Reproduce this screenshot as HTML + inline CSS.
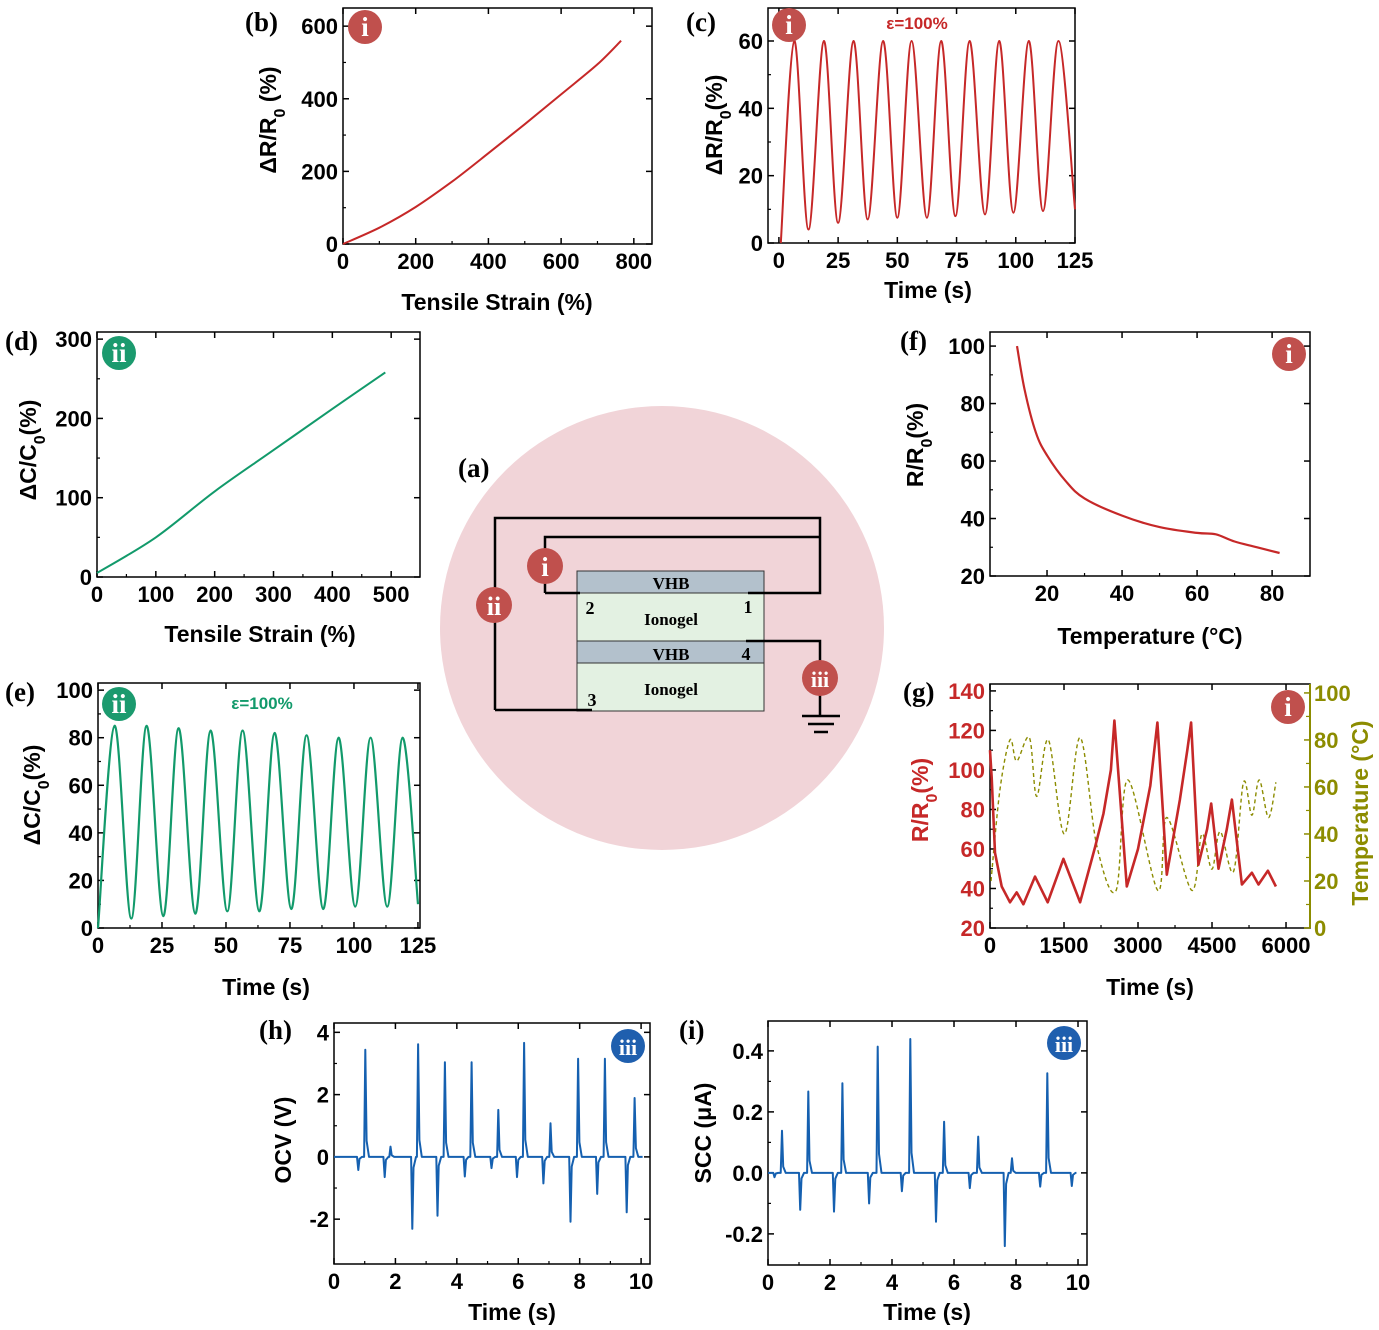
<!DOCTYPE html>
<html><head><meta charset="utf-8">
<style>
html,body{margin:0;padding:0;background:#fff;}
svg{display:block;font-family:"Liberation Sans",sans-serif;}
.tk{font-size:22px;font-weight:bold;fill:#000;}
.tt{font-size:23px;font-weight:bold;fill:#000;}
.pl{font-family:"Liberation Serif",serif;font-size:27px;font-weight:bold;fill:#000;}
.dg{font-family:"Liberation Serif",serif;font-weight:bold;fill:#000;}
</style></head>
<body>
<svg id="fig" width="1379" height="1330" viewBox="0 0 1379 1330" xmlns="http://www.w3.org/2000/svg">
  <g>
    <circle cx="662" cy="628" r="222" fill="#f1d4d8"/>
    <text x="458" y="477" class="pl">(a)</text>
    <rect x="577" y="571" width="187" height="22" fill="#b3c1cc" stroke="#333" stroke-width="1"/>
    <rect x="577" y="593" width="187" height="48" fill="#e3f1e2" stroke="#333" stroke-width="1"/>
    <rect x="577" y="641" width="187" height="22" fill="#b3c1cc" stroke="#333" stroke-width="1"/>
    <rect x="577" y="663" width="187" height="48" fill="#e3f1e2" stroke="#333" stroke-width="1"/>
    <g fill="none" stroke="#000" stroke-width="2.5">
      <path d="M495,710 V518 H820 V593 H748"/>
      <path d="M545,593 V537 H820"/>
      <path d="M545,593 H580"/>
      <path d="M495,710 H592"/>
      <path d="M746,641 H820 V716"/>
      <path d="M802,716 H840 M808,724 H834 M814,732 H828"/>
    </g>
    <circle cx="545" cy="566" r="18" fill="#c0504d"/>
    <text x="545" y="576" text-anchor="middle" font-family="Liberation Serif,serif" font-weight="bold" font-size="27" fill="#fff">i</text>
    <circle cx="494" cy="605" r="18" fill="#c0504d"/>
    <text x="494" y="615" text-anchor="middle" font-family="Liberation Serif,serif" font-weight="bold" font-size="26" fill="#fff">ii</text>
    <circle cx="820" cy="678" r="18" fill="#c0504d"/>
    <text x="820" y="687" text-anchor="middle" font-family="Liberation Serif,serif" font-weight="bold" font-size="22" fill="#fff">iii</text>
    <text x="671" y="589" class="dg" font-size="17" text-anchor="middle">VHB</text>
    <text x="671" y="625" class="dg" font-size="17" text-anchor="middle">Ionogel</text>
    <text x="590" y="614" class="dg" font-size="18" text-anchor="middle">2</text>
    <text x="748" y="613" class="dg" font-size="18" text-anchor="middle">1</text>
    <text x="671" y="660" class="dg" font-size="17" text-anchor="middle">VHB</text>
    <text x="746" y="660" class="dg" font-size="18" text-anchor="middle">4</text>
    <text x="671" y="695" class="dg" font-size="17" text-anchor="middle">Ionogel</text>
    <text x="592" y="706" class="dg" font-size="18" text-anchor="middle">3</text>
  </g>
  <g id="panels"></g>
</svg>
<script>
// ---------- data ----------
const bStrain = [0, 100, 200, 300, 400, 500, 600, 700, 765];
const bResp   = [0, 45, 102, 172, 250, 330, 412, 495, 560];
const cTime = [0.8,6.5,12.5,19,25,31.5,37.5,44,50,56,62.5,68.5,74.5,80.5,87,93,99,105.5,111.5,118,125];
const cResp = [0,60,4,60,6,60,7,60,7.5,60,7.5,60,8,60,8.5,60,9,60,9.5,60,10];
const dStrain = [0, 100, 200, 300, 400, 490];
const dResp   = [5, 50, 108, 160, 212, 258];
const eTime = [0,6.5,13,19,25.5,31.5,38,44,50.5,56.5,63,69,75.5,81.5,88,94,100.5,106.5,113,119,125];
const eResp = [0,85,4,85,5,84,6,83,7,83,7,82,8,81,8,80,9,80,9,80,10];
const fTemp = [12, 14, 17, 20, 25, 30, 40, 50, 60, 65, 70, 76, 82];
const fResp = [100, 85, 70, 62, 53, 47, 41, 37, 35, 34.5, 32, 30, 28];
const gTime = [0,34,101,237,406,541,676,913,1170,1487,1826,2130,2300,2450,2522,2772,3000,3250,3394,3584,3850,4000,4077,4225,4400,4483,4631,4800,4902,5105,5308,5442,5632,5795];
const gResR = [110,96,58,41,33,38,32,46,33,55,33,61,78,100,125,41,60,92,124,47,85,110,124,52,70,83,50,70,85,42,48,42,49,41];
const gTTime = [20,203,406,541,798,947,1183,1508,1826,2164,2556,2793,3401,3584,4091,4294,4497,4665,4936,5139,5308,5456,5645,5795];
const gTemp  = [20,59,80,71,81,56,80,40,81,35,16,63,16,47,16,40,25,41,24,62,48,63,47,62];
const hPosT = [1.02,1.84,2.74,3.61,4.48,5.35,6.19,7.05,7.95,8.82,9.79];
const hPosV = [3.44,0.33,3.62,3.04,3.04,1.51,3.66,1.08,3.15,3.15,1.89];
const hNegT = [0.79,1.65,2.55,3.37,4.26,5.13,5.96,6.82,7.70,8.57,9.53];
const hNegV = [-0.42,-0.65,-2.31,-1.89,-0.63,-0.36,-0.65,-0.85,-2.08,-1.19,-1.78];
const iPosT = [0.45,1.30,2.40,3.54,4.59,5.68,6.78,7.87,9.01];
const iPosV = [0.138,0.267,0.294,0.414,0.439,0.168,0.119,0.048,0.327];
const iNegT = [0.21,1.04,2.13,3.26,4.32,5.42,6.51,7.64,8.78,9.80];
const iNegV = [-0.014,-0.121,-0.127,-0.10,-0.06,-0.16,-0.05,-0.24,-0.045,-0.043];
const bXT=[0,200,400,600,800], bYT=[0,200,400,600];
const cXT=[0,25,50,75,100,125], cYT=[0,20,40,60];
const dXT=[0,100,200,300,400,500], dYT=[0,100,200,300];
const eXT=[0,25,50,75,100,125], eYT=[0,20,40,60,80,100];
const fXT=[20,40,60,80], fYT=[20,40,60,80,100];
const gXT=[0,1500,3000,4500,6000], gYT=[20,40,60,80,100,120,140], gRT=[0,20,40,60,80,100];
const hXT=[0,2,4,6,8,10], hYT=[-2,0,2,4];
const iXT=[0,2,4,6,8,10], iYT=[-0.2,0,0.2,0.4];

const NS="http://www.w3.org/2000/svg";
const root=document.getElementById('panels');
function mk(tag,attrs,parent,txt){const e=document.createElementNS(NS,tag);for(const k in attrs)e.setAttribute(k,attrs[k]);if(txt!==undefined)e.textContent=txt;(parent||root).appendChild(e);return e;}
function scale(d0,d1,p0,p1){return v=>p0+(v-d0)/(d1-d0)*(p1-p0);}
function smooth(pts){
  let d="M"+pts[0][0].toFixed(1)+","+pts[0][1].toFixed(1);
  for(let i=0;i<pts.length-1;i++){
    const p0=pts[Math.max(0,i-1)],p1=pts[i],p2=pts[i+1],p3=pts[Math.min(pts.length-1,i+2)];
    const c1=[p1[0]+(p2[0]-p0[0])/6,p1[1]+(p2[1]-p0[1])/6];
    const c2=[p2[0]-(p3[0]-p1[0])/6,p2[1]-(p3[1]-p1[1])/6];
    d+="C"+c1[0].toFixed(1)+","+c1[1].toFixed(1)+" "+c2[0].toFixed(1)+","+c2[1].toFixed(1)+" "+p2[0].toFixed(1)+","+p2[1].toFixed(1);
  }
  return d;
}
function fmt(v){return String(v);}
function axes(g,o){
  const sx=scale(o.xd[0],o.xd[1],o.L,o.R), sy=scale(o.yd[0],o.yd[1],o.B,o.T);
  const box=mk('rect',{x:o.L,y:o.T,width:o.R-o.L,height:o.B-o.T,fill:'none',stroke:'#000','stroke-width':1.5},g);
  
  
  o.xt.forEach((v,i)=>{
    const x=sx(v);
    mk('line',{x1:x,x2:x,y1:o.B,y2:o.B-6,stroke:'#000','stroke-width':1.5},g);
    mk('line',{x1:x,x2:x,y1:o.T,y2:o.T+6,stroke:'#000','stroke-width':1.5},g);
    if(i<o.xt.length-1){const xm=sx((v+o.xt[i+1])/2);mk('line',{x1:xm,x2:xm,y1:o.B,y2:o.B-3,stroke:'#000','stroke-width':1.2},g);}
    const t=mk('text',{x:x,y:o.B+25,class:'tk','text-anchor':'middle'},g,o.xl?o.xl[i]:fmt(v));
    
    
  });
  o.yt.forEach((v,i)=>{
    const y=sy(v);
    mk('line',{x1:o.L,x2:o.L+6,y1:y,y2:y,stroke:'#000','stroke-width':1.5},g);
    if(!o.noRightTicks) mk('line',{x1:o.R,x2:o.R-6,y1:y,y2:y,stroke:'#000','stroke-width':1.5},g);
    if(i<o.yt.length-1){const ym=sy((v+o.yt[i+1])/2);mk('line',{x1:o.L,x2:o.L+3,y1:ym,y2:ym,stroke:'#000','stroke-width':1.2},g);}
    const t=mk('text',{x:o.L-5,y:y+8,class:'tk','text-anchor':'end'},g,o.yl?o.yl[i]:fmt(v));
    if(o.ycol)t.setAttribute('style','fill:'+o.ycol);
    
    
  });
  return {sx,sy};
}
function ylabel(g,x,y,parts,col){
  const t=mk('text',{x:x,y:y,class:'tt','text-anchor':'middle',transform:`rotate(-90 ${x} ${y})`},g);
  if(col)t.setAttribute('style','fill:'+col);
  parts.forEach(p=>{mk('tspan',p[1]?{'baseline-shift':'sub','font-size':'16'}:{},t,p[0]);});
  
  
  return t;
}
function xlabel(g,x,y,txt){const t=mk('text',{x:x,y:y,class:'tt','text-anchor':'middle'},g,txt);
  
  }
function plabel(g,x,y,txt){const t=mk('text',{x:x,y:y,class:'pl'},g,txt);
  
  }
function badge(g,x,y,txt,col){
  const c=mk('circle',{cx:x,cy:y,r:17,fill:col},g);
  
  
  const t=mk('text',{x:x,y:y+9,'text-anchor':'middle','font-family':'Liberation Serif,serif','font-weight':'bold','font-size':txt.length>2?'22':'27',fill:'#fff'},g,txt);
  
  
}
function line(g,sx,sy,xs,ys,col,w,smoothIt,dash){
  const pts=xs.map((x,i)=>[sx(x),sy(ys[i])]);
  const d=smoothIt?smooth(pts):"M"+pts.map(p=>p[0].toFixed(1)+","+p[1].toFixed(1)).join("L");
  const p=mk('path',{d:d,fill:'none',stroke:col,'stroke-width':w,'stroke-linejoin':'round'},g);
  if(dash)p.setAttribute('stroke-dasharray',dash);
  
  
  return p;
}
function spikes(g,sx,sy,pT,pV,nT,nV,xEnd,col,w,dt){
  const ev=[];
  pT.forEach((t,i)=>ev.push([t,pV[i]]));
  nT.forEach((t,i)=>ev.push([t,nV[i]]));
  ev.sort((a,b)=>a[0]-b[0]);
  let d="M"+sx(0)+","+sy(0);
  ev.forEach(e=>{
    const t=e[0],v=e[1];
    d+="L"+sx(t-dt).toFixed(1)+","+sy(0).toFixed(1);
    d+="L"+sx(t).toFixed(1)+","+sy(v).toFixed(1);
    d+="L"+sx(t+dt).toFixed(1)+","+sy(v*0.15).toFixed(1);
    d+="L"+sx(t+dt*3).toFixed(1)+","+sy(0).toFixed(1);
  });
  d+="L"+sx(xEnd)+","+sy(0);
  const p=mk('path',{d:d,fill:'none',stroke:col,'stroke-width':w,'stroke-linejoin':'round'},g);
  
  
}
const RED="#c62828",GRN="#129a6b",BLU="#1560b0",OLV="#8c8c00";
const BR="#c0504d",BG="#1b9a6e",BB="#1f5fae";

// panel b
{const g=mk('g',{});
 const {sx,sy}=axes(g,{L:343,R:652,T:8,B:244,xd:[0,850],yd:[0,650],xt:bXT,yt:bYT});
 line(g,sx,sy,bStrain,bResp,RED,2,true);
 ylabel(g,276,120,[["ΔR/R"],["0",1],[" (%)"]]);xlabel(g,497,310,"Tensile Strain (%)");
 plabel(g,245,31,"(b)");badge(g,365,27,"i",BR);}
// panel c
{const g=mk('g',{});
 const {sx,sy}=axes(g,{L:768,R:1075,T:8,B:243,xd:[-4.6,125],yd:[0,69.8],xt:cXT,yt:cYT});
 line(g,sx,sy,cTime,cResp,RED,2,true);
 ylabel(g,722,125,[["ΔR/R"],["0",1],["(%)"]]);xlabel(g,928,298,"Time (s)");
 plabel(g,686,31,"(c)");badge(g,789,25,"i",BR);
 const a=mk('text',{x:917,y:29,'text-anchor':'middle','font-size':'17','font-weight':'bold',fill:RED},g,"ε=100%");}
// panel d
{const g=mk('g',{});
 const {sx,sy}=axes(g,{L:97,R:420,T:332,B:577,xd:[0,549],yd:[0,309],xt:dXT,yt:dYT});
 line(g,sx,sy,dStrain,dResp,GRN,2,true);
 ylabel(g,36,450,[["ΔC/C"],["0",1],["(%)"]]);xlabel(g,260,642,"Tensile Strain (%)");
 plabel(g,5,350,"(d)");badge(g,119,353,"ii",BG);}
// panel e
{const g=mk('g',{});
 const {sx,sy}=axes(g,{L:98,R:420,T:683,B:928,xd:[0,125.8],yd:[0,103],xt:eXT,yt:eYT});
 line(g,sx,sy,eTime,eResp,GRN,2.2,true);
 ylabel(g,40,795,[["ΔC/C"],["0",1],["(%)"]]);xlabel(g,266,995,"Time (s)");
 plabel(g,5,701,"(e)");badge(g,119,704,"ii",BG);
 const a=mk('text',{x:262,y:709,'text-anchor':'middle','font-size':'17','font-weight':'bold',fill:GRN},g,"ε=100%");}
// panel f
{const g=mk('g',{});
 const {sx,sy}=axes(g,{L:990,R:1310,T:332,B:576,xd:[4.8,90.1],yd:[20,104.9],xt:fXT,yt:fYT});
 line(g,sx,sy,fTemp,fResp,RED,2.2,true);
 ylabel(g,923,445,[["R/R"],["0",1],["(%)"]]);xlabel(g,1150,644,"Temperature (°C)");
 plabel(g,900,350,"(f)");badge(g,1289,354,"i",BR);}
// panel g
{const g=mk('g',{});
 const {sx,sy}=axes(g,{L:990,R:1310,T:684,B:928,xd:[0,6486],yd:[20,143.5],xt:gXT,yt:gYT,ycol:RED,noRightTicks:true});
 const sy2=scale(0,103.8,928,684);
 mk('line',{x1:1310,x2:1310,y1:684,y2:928,stroke:OLV,'stroke-width':2},g);
 gRT.forEach((v,i)=>{const y=sy2(v);mk('line',{x1:1310,x2:1304,y1:y,y2:y,stroke:OLV,'stroke-width':1.5},g);
   if(i<gRT.length-1){const ym=sy2(v+10);mk('line',{x1:1310,x2:1306,y1:ym,y2:ym,stroke:OLV,'stroke-width':1.2},g);}
   const t=mk('text',{x:1314,y:y+8,class:'tk',style:'fill:'+OLV},g,String(v));});
 line(g,sx,sy2,gTTime,gTemp,OLV,1.4,true,"4 3");
 line(g,sx,sy,gTime,gResR,RED,2.6,false);
 ylabel(g,928,800,[["R/R"],["0",1],["(%)"]],RED);
 ylabel(g,1368,813,[["Temperature (°C)"]],OLV);
 xlabel(g,1150,995,"Time (s)");
 plabel(g,903,701,"(g)");badge(g,1288,707,"i",BR);}
// panel h
{const g=mk('g',{});
 const {sx,sy}=axes(g,{L:334,R:650,T:1023,B:1264,xd:[0,10.29],yd:[-3.44,4.3],xt:hXT,yt:hYT});
 spikes(g,sx,sy,hPosT,hPosV,hNegT,hNegV,10.05,BLU,2,0.04);
 ylabel(g,291,1140,[["OCV (V)"]]);xlabel(g,512,1320,"Time (s)");
 plabel(g,259,1039,"(h)");badge(g,628,1046,"iii",BB);}
// panel i
{const g=mk('g',{});
 const {sx,sy}=axes(g,{L:768,R:1087,T:1021,B:1265,xd:[0,10.29],yd:[-0.302,0.498],xt:iXT,yt:iYT,yl:["-0.2","0.0","0.2","0.4"]});
 spikes(g,sx,sy,iPosT,iPosV,iNegT,iNegV,9.95,BLU,2,0.04);
 ylabel(g,711,1133,[["SCC (μA)"]]);xlabel(g,927,1320,"Time (s)");
 plabel(g,679,1039,"(i)");badge(g,1064,1043,"iii",BB);}
</script>
</body></html>
